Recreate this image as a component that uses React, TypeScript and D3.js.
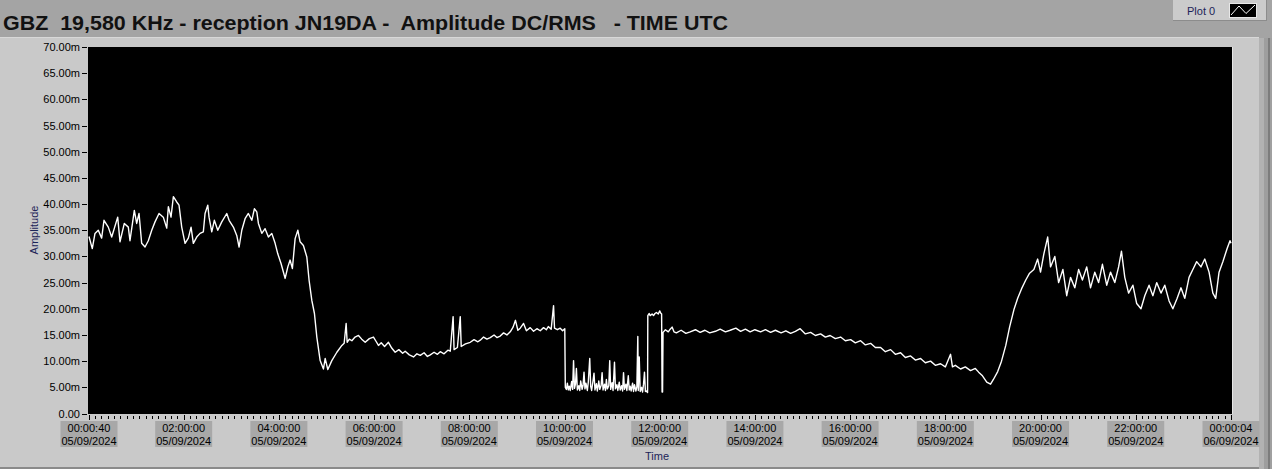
import React from "react";
import * as d3 from "d3";

const TITLE = "GBZ  19,580 KHz - reception JN19DA -  Amplitude DC/RMS   - TIME UTC";
const LEGEND_NAME = "Plot 0";
const X_TITLE = "Time";
const Y_TITLE = "Amplitude";

const yTicks = [0, 5, 10, 15, 20, 25, 30, 35, 40, 45, 50, 55, 60, 65, 70];
const yTickLabels = yTicks.map((v) => (v === 0 ? "0.00" : v.toFixed(2) + "m"));

const xTickHours = [40 / 3600, 2, 4, 6, 8, 10, 12, 14, 16, 18, 20, 22, 24 + 4 / 3600];
const xTickTimes = [
  "00:00:40", "02:00:00", "04:00:00", "06:00:00", "08:00:00", "10:00:00", "12:00:00",
  "14:00:00", "16:00:00", "18:00:00", "20:00:00", "22:00:00", "00:00:04",
];
const xTickDates = [
  "05/09/2024", "05/09/2024", "05/09/2024", "05/09/2024", "05/09/2024", "05/09/2024", "05/09/2024",
  "05/09/2024", "05/09/2024", "05/09/2024", "05/09/2024", "05/09/2024", "06/09/2024",
];

// [time in hours since 00:00 UTC 05/09/2024, amplitude in milli-units]
const samples: [number, number][] = [
  // 00:00 - 05:25 strong daytime-night level
  [0.011, 33.8], [0.08, 31.5], [0.137, 34.4], [0.206, 35], [0.277, 33.5], [0.326, 36.9],
  [0.416, 35.6], [0.488, 33.7], [0.614, 37.5], [0.662, 32.8], [0.753, 36.3], [0.837, 35.6],
  [0.872, 33], [0.963, 38.8], [1.013, 36.3], [1.062, 38.2], [1.118, 32.5], [1.188, 31.8],
  [1.257, 33], [1.329, 35], [1.398, 36.6], [1.482, 38.2], [1.572, 37.5], [1.644, 35.4],
  [1.678, 39.5], [1.734, 37.5], [1.783, 41.4], [1.854, 40.4], [1.902, 39.8], [1.959, 35.6],
  [2.029, 32.5], [2.098, 33.5], [2.155, 35.6], [2.203, 32.5], [2.274, 33.7], [2.344, 34.4],
  [2.413, 34.7], [2.449, 38.2], [2.506, 39.8], [2.533, 37.5], [2.59, 34.7], [2.644, 36.9],
  [2.716, 35], [2.8, 36.6], [2.905, 38.2], [2.954, 36.9], [3.044, 35.6], [3.115, 34],
  [3.164, 31.8], [3.221, 35], [3.29, 37.2], [3.359, 38.2], [3.431, 36.9], [3.485, 39.1],
  [3.536, 38.5], [3.57, 36.3], [3.641, 34.4], [3.71, 35.3], [3.78, 33.7], [3.851, 34.4],
  [3.921, 32.5], [3.977, 30.5], [4.047, 28.6], [4.131, 25.8], [4.188, 28], [4.236, 29.3],
  [4.284, 27.7], [4.341, 33.4], [4.398, 35], [4.446, 32.8], [4.515, 32.1], [4.587, 29.9],
  [4.635, 25.4], [4.692, 21.6], [4.747, 19.1], [4.797, 14.6], [4.867, 10.1], [4.936, 8.5],
  [4.972, 10.5], [5.028, 8.4], [5.112, 10.1], [5.218, 11.7], [5.323, 13], [5.371, 13.4],
  [5.413, 17.2],
  // 05:25 - 10:00 morning plateau
  [5.434, 13.6], [5.48, 14.2], [5.533, 13.9], [5.6, 14.6], [5.672, 14.9], [5.74, 14.2],
  [5.813, 13.6], [5.9, 14.3], [5.987, 14.6], [6.04, 13.8], [6.092, 13.0], [6.15, 13.5],
  [6.22, 12.8], [6.302, 13.6], [6.37, 12.5], [6.443, 11.7], [6.52, 12.2], [6.6, 11.5],
  [6.653, 11.9], [6.74, 11.2], [6.828, 10.8], [6.9, 11.4], [6.97, 11.1], [7.05, 11.6],
  [7.12, 10.9], [7.18, 11.2], [7.26, 11.7], [7.33, 11.3], [7.39, 11.8], [7.47, 11.4],
  [7.55, 12.1], [7.6, 11.9], [7.66, 18.5], [7.68, 12.2], [7.75, 12.6], [7.81, 18.5],
  [7.83, 12.8], [7.92, 13.3], [8.02, 13.6], [8.1, 14.1], [8.18, 13.7], [8.23, 14.0],
  [8.3, 14.6], [8.37, 14.2], [8.44, 14.5], [8.52, 15.0], [8.58, 14.5], [8.65, 14.8],
  [8.72, 15.4], [8.79, 15.0], [8.86, 15.6], [8.92, 16.5], [8.97, 17.8], [9.02, 15.9],
  [9.07, 16.3], [9.14, 17.2], [9.2, 15.8], [9.28, 16.4], [9.35, 15.7], [9.42, 16.2],
  [9.49, 15.8], [9.56, 16.4], [9.62, 16.0], [9.66, 16.6], [9.72, 16.1], [9.77, 20.6],
  [9.79, 16.3], [9.85, 16.0], [9.91, 16.3], [9.96, 15.8], [10.006, 16.2],
  // 10:00 - 11:45 low level
  [10.017, 5.0], [10.04, 4.6], [10.06, 5.8], [10.08, 4.5], [10.1, 5.2], [10.12, 4.4],
  [10.15, 6.1], [10.17, 4.6], [10.19, 10.1], [10.21, 4.8], [10.23, 5.6], [10.25, 8.6],
  [10.27, 4.5], [10.3, 5.3], [10.32, 4.4], [10.34, 6.2], [10.37, 4.6], [10.39, 5.4],
  [10.41, 7.9], [10.43, 4.7], [10.45, 5.8], [10.48, 4.4], [10.5, 6.0], [10.53, 10.5],
  [10.55, 5.2], [10.57, 4.4], [10.6, 6.3], [10.62, 7.7], [10.64, 4.5], [10.67, 5.7],
  [10.69, 4.3], [10.72, 6.2], [10.74, 4.6], [10.77, 5.4], [10.79, 7.8], [10.81, 4.5],
  [10.84, 5.6], [10.86, 4.4], [10.88, 6.5], [10.9, 4.7], [10.93, 5.3], [10.95, 10.1],
  [10.97, 4.6], [11.0, 5.9], [11.02, 4.4], [11.05, 9.8], [11.07, 4.7], [11.1, 5.5],
  [11.12, 4.4], [11.15, 6.0], [11.17, 4.5], [11.2, 5.3], [11.22, 4.3], [11.24, 7.8],
  [11.26, 4.6], [11.29, 5.6], [11.31, 4.4], [11.34, 7.2], [11.36, 4.5], [11.38, 5.2],
  [11.4, 4.3], [11.43, 5.8], [11.45, 4.2], [11.47, 5.5], [11.5, 4.3], [11.52, 5.1],
  [11.54, 14.7], [11.55, 4.4], [11.57, 10.8], [11.59, 4.2], [11.62, 5.0], [11.64, 4.1],
  [11.66, 5.6], [11.68, 7.9], [11.7, 4.2], [11.72, 4.3], [11.745, 4.0],
  // 11:45 - 12:04 short recovery, then dropout
  [11.75, 18.7], [11.78, 19.1], [11.8, 18.7], [11.84, 19.0], [11.87, 18.7], [11.9, 19.1],
  [11.93, 19.3], [11.97, 19.0], [12.0, 19.6], [12.02, 19.2], [12.04, 19.0], [12.05, 4.1],
  [12.06, 4.1], [12.07, 15.5],
  // 12:04 - 18:45 afternoon plateau, slowly decaying
  [12.12, 16.0], [12.18, 15.6], [12.22, 16.1], [12.26, 16.5], [12.3, 15.6], [12.35, 15.4],
  [12.45, 15.9], [12.55, 15.3], [12.64, 15.6], [12.75, 16.0], [12.85, 15.5], [12.95, 15.9],
  [13.05, 15.4], [13.17, 15.7], [13.27, 16.1], [13.38, 15.6], [13.48, 15.9], [13.6, 16.3],
  [13.7, 15.7], [13.8, 16.1], [13.9, 15.6], [14.0, 16.0], [14.12, 15.6], [14.22, 16.0],
  [14.33, 15.5], [14.43, 15.9], [14.55, 15.4], [14.65, 15.8], [14.75, 15.3], [14.85, 15.7],
  [14.95, 16.2], [15.06, 15.2], [15.17, 15.5], [15.27, 14.9], [15.38, 15.2], [15.48, 14.6],
  [15.58, 14.9], [15.69, 14.3], [15.8, 14.6], [15.9, 13.9], [16.01, 14.1], [16.11, 13.5],
  [16.22, 13.9], [16.32, 13.1], [16.43, 13.4], [16.53, 12.6], [16.64, 12.6], [16.74, 11.8],
  [16.85, 12.2], [16.95, 11.3], [17.06, 11.6], [17.16, 10.7], [17.27, 11.0], [17.37, 10.2],
  [17.48, 10.5], [17.58, 9.7], [17.69, 10.0], [17.79, 9.2], [17.9, 9.5], [18.0, 8.9],
  [18.11, 11.3], [18.15, 8.9], [18.21, 9.2], [18.32, 8.5], [18.42, 8.9], [18.53, 8.2],
  [18.63, 8.6], [18.7, 7.9], [18.78, 7.2], [18.87, 6.0], [18.95, 5.6], [19.01, 6.5],
  // 19:00 - 24:00 night level
  [19.1, 8.0], [19.18, 10.0], [19.27, 13.0], [19.35, 16.5], [19.44, 19.8], [19.52, 22.0],
  [19.6, 23.8], [19.69, 25.5], [19.77, 26.8], [19.86, 27.5], [19.94, 29.5], [20.0, 27.0],
  [20.07, 30.5], [20.15, 33.7], [20.21, 28.0], [20.3, 30.0], [20.38, 25.0], [20.47, 27.5],
  [20.55, 22.5], [20.63, 26.0], [20.72, 24.0], [20.8, 27.5], [20.88, 25.5], [20.97, 28.0],
  [21.05, 24.0], [21.14, 27.0], [21.22, 25.0], [21.3, 28.5], [21.39, 24.5], [21.47, 27.0],
  [21.56, 25.0], [21.64, 28.0], [21.7, 31.0], [21.77, 26.0], [21.85, 23.0], [21.94, 24.5],
  [22.02, 21.0], [22.11, 20.0], [22.19, 22.5], [22.28, 24.5], [22.36, 22.5], [22.44, 25.0],
  [22.53, 23.0], [22.61, 24.5], [22.7, 21.5], [22.78, 20.0], [22.87, 22.0], [22.95, 24.0],
  [23.03, 22.0], [23.12, 26.0], [23.2, 27.5], [23.28, 29.0], [23.37, 28.0], [23.45, 29.5],
  [23.54, 27.0], [23.62, 23.0], [23.68, 22.0], [23.75, 27.0], [23.83, 29.0], [23.92, 31.5],
  [23.98, 33.0], [24.001, 32.5],
];

const FONT = "'Liberation Sans', Arial, sans-serif";

export default function App() {
  const W = 1272;
  const H = 469;
  const plot = { left: 88, top: 47, right: 1232, bottom: 414 };
  const x = d3.scaleLinear().domain([xTickHours[0], xTickHours[xTickHours.length - 1]]).range([89, 1231]);
  const y = d3.scaleLinear().domain([0, 70]).range([413.5, 47]);
  const line = d3
    .line<[number, number]>()
    .x((d) => x(d[0]))
    .y((d) => y(d[1]));

  const minorTicks = d3
    .range(0, 24.01, 8 / 60)
    .filter((h) => h >= xTickHours[0] && h <= xTickHours[xTickHours.length - 1])
    .filter((h) => xTickHours.every((m) => Math.abs(m - h) > 0.05));

  return (
    <svg
      width={W}
      height={H}
      style={{ position: "fixed", left: 0, top: 0, display: "block" }}
      fontFamily={FONT}
    >
      {/* backgrounds */}
      <rect x={0} y={0} width={W} height={H} fill="#a4a4a4" />
      <rect x={0} y={37} width={1259} height={430} fill="#c9c9c9" />
      <line x1={0} y1={37.5} x2={1259} y2={37.5} stroke="#d8d8d8" />
      <rect x={0} y={467} width={1259} height={2} fill="#8a8a8a" />
      <rect x={1259} y={38} width={5} height={431} fill="#b2b2b2" />
      <rect x={1264} y={38} width={4} height={431} fill="#9e9e9e" />
      <rect x={1268} y={38} width={2} height={431} fill="#7c7c7c" />
      <rect x={1270} y={38} width={2} height={431} fill="#a0a0a0" />

      {/* title */}
      <text
        x={3}
        y={30}
        fontSize={20}
        fontWeight="bold"
        fill="#111"
        textLength={725}
        lengthAdjust="spacingAndGlyphs"
        style={{ whiteSpace: "pre" }}
      >
        {TITLE}
      </text>

      {/* legend */}
      <rect x={1173} y={0} width={93} height={20} fill="#cbcbcb" />
      <line x1={1173} y1={20.5} x2={1266} y2={20.5} stroke="#8c8c8c" />
      <line x1={1266.5} y1={0} x2={1266.5} y2={21} stroke="#8c8c8c" />
      <text x={1187} y={15} fontSize={11} fill="#1c2458">
        {LEGEND_NAME}
      </text>
      <rect x={1229.5} y={3.5} width={27} height={14} fill="#000" stroke="#e8e8e8" />
      <polyline
        points="1231,15 1239,6 1246,13.5 1255,5"
        fill="none"
        stroke="#fff"
        strokeWidth={1}
      />

      {/* plot area */}
      <rect x={plot.left} y={plot.top} width={plot.right - plot.left} height={plot.bottom - plot.top} fill="#000" />
      <line x1={plot.right + 0.5} y1={plot.top} x2={plot.right + 0.5} y2={plot.bottom} stroke="#e6e6e6" />

      <clipPath id="plotClip">
        <rect x={plot.left} y={plot.top} width={plot.right - plot.left} height={plot.bottom - plot.top} />
      </clipPath>
      <path
        d={line(samples) || ""}
        fill="none"
        stroke="#fff"
        strokeWidth={1.4}
        strokeLinejoin="round"
        clipPath="url(#plotClip)"
      />

      {/* y axis */}
      {yTicks.map((v, i) => (
        <g key={"y" + v}>
          <line x1={82} x2={87} y1={Math.round(y(v)) + 0.5} y2={Math.round(y(v)) + 0.5} stroke="#000" />
          <text x={80} y={Math.round(y(v)) + 4} fontSize={11} textAnchor="end" fill="#000">
            {yTickLabels[i]}
          </text>
        </g>
      ))}
      <text
        transform={`translate(38,230) rotate(-90)`}
        fontSize={11}
        textAnchor="middle"
        fill="#1c2458"
      >
        {Y_TITLE}
      </text>

      {/* x axis */}
      {minorTicks.map((h) => (
        <line
          key={"m" + h}
          x1={Math.round(x(h)) + 0.5}
          x2={Math.round(x(h)) + 0.5}
          y1={416}
          y2={419}
          stroke="#000"
        />
      ))}
      {xTickHours.map((h, i) => {
        const cx = x(h);
        return (
          <g key={"x" + i}>
            <line x1={Math.round(cx) + 0.5} x2={Math.round(cx) + 0.5} y1={415} y2={420} stroke="#000" />
            <rect x={cx - 28.5} y={421} width={57} height={26} fill="#a8a8a8" />
            <text x={cx} y={432} fontSize={11} textAnchor="middle" fill="#000">
              {xTickTimes[i]}
            </text>
            <text x={cx} y={445} fontSize={11} textAnchor="middle" fill="#000">
              {xTickDates[i]}
            </text>
          </g>
        );
      })}
      <text x={657} y={460} fontSize={11} textAnchor="middle" fill="#1c2458">
        {X_TITLE}
      </text>
    </svg>
  );
}
